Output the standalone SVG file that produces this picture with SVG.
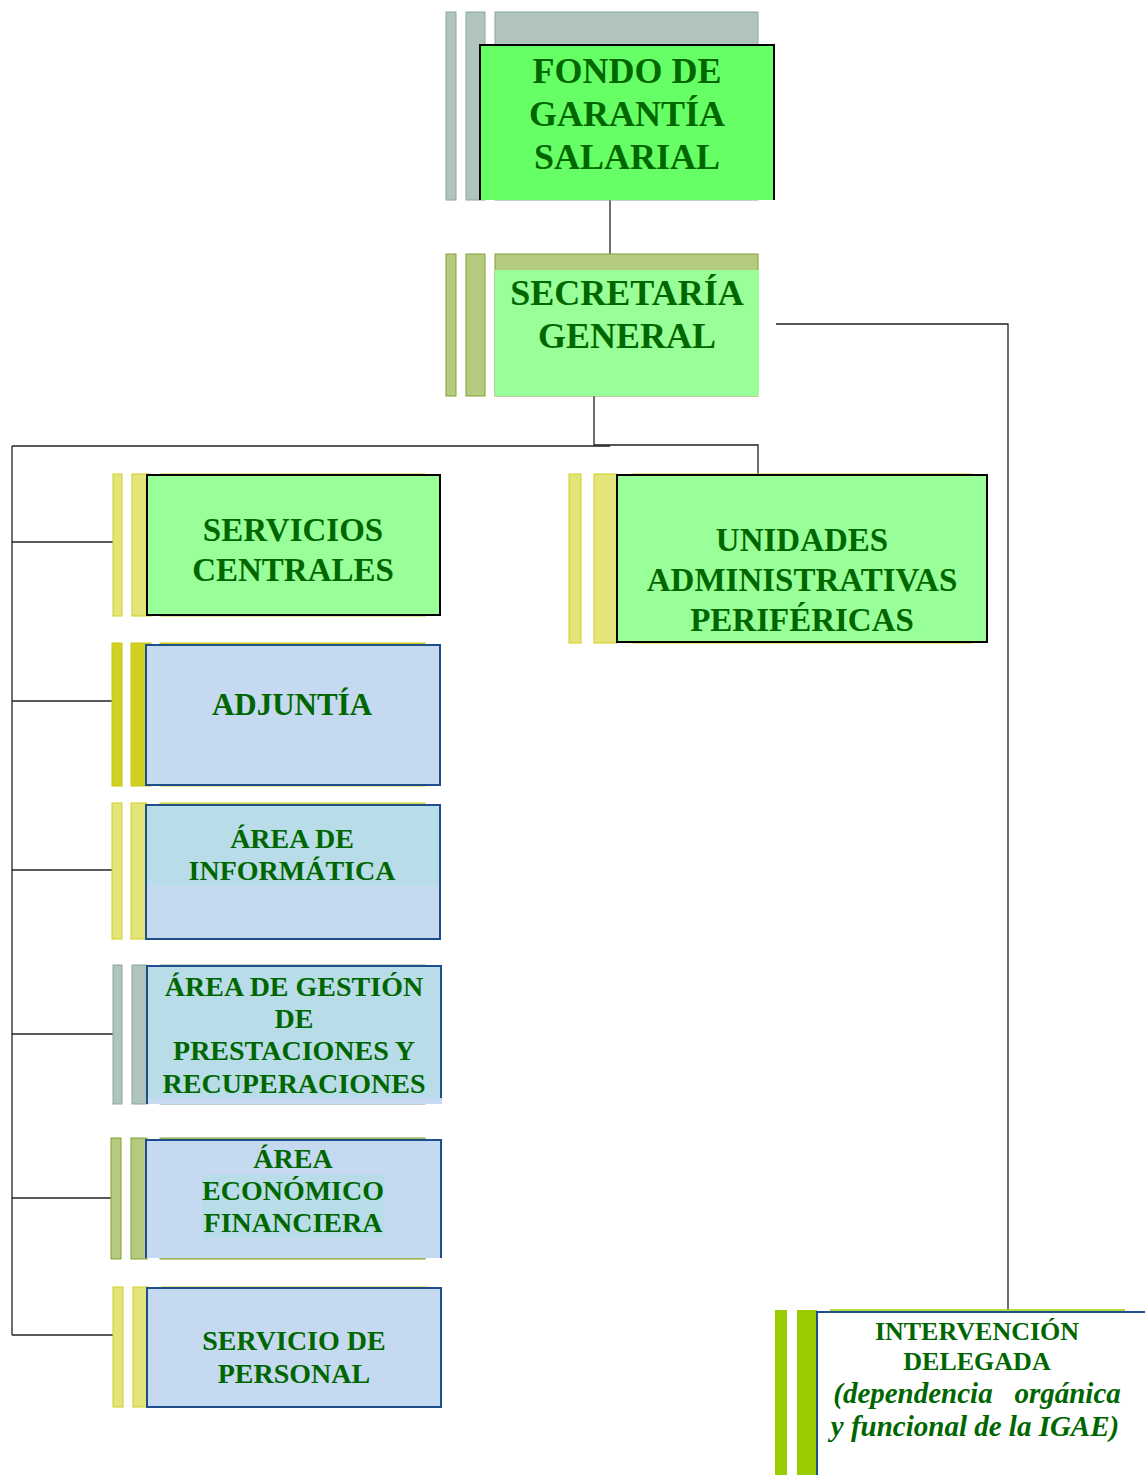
<svg xmlns="http://www.w3.org/2000/svg" width="1145" height="1475" viewBox="0 0 1145 1475">
<style>
text{font-family:"Liberation Serif","Times New Roman",serif;font-weight:bold;fill:#006600;text-anchor:middle}
.conn{stroke:#222;stroke-width:1.3;fill:none}
.gray{fill:#b0c4bc;stroke:#8aa898;stroke-width:1}
.olive{fill:#b5cc80;stroke:#80a030;stroke-width:1}
.yel{fill:#e3e47a;stroke:#d0d020;stroke-width:1}
.yeld{fill:#d0d020;stroke:#c8c810;stroke-width:1}
.lime{fill:#99cc00}
.blue{fill:#c5d9f0;stroke:#1f4e8c;stroke-width:2}
.black{stroke:#000;stroke-width:2}
</style>
<rect width="1145" height="1475" fill="#fff"/>
<g id="connectors">
<line class="conn" x1="610" y1="200" x2="610" y2="254"/>
<polyline class="conn" points="594,396 594,445 758,445 758,475"/>
<line class="conn" x1="12" y1="446" x2="610" y2="446"/>
<line class="conn" x1="12" y1="446" x2="12" y2="1335"/>
<line class="conn" x1="12" y1="542" x2="113" y2="542"/>
<line class="conn" x1="12" y1="701" x2="112" y2="701"/>
<line class="conn" x1="12" y1="870" x2="112" y2="870"/>
<line class="conn" x1="12" y1="1034" x2="113" y2="1034"/>
<line class="conn" x1="12" y1="1198" x2="111" y2="1198"/>
<line class="conn" x1="12" y1="1335" x2="113" y2="1335"/>
<polyline class="conn" points="776,324 1008,324 1008,1310"/>
</g>
<g id="fondo">
<rect class="gray" x="446" y="12" width="10" height="188"/>
<rect class="gray" x="466" y="12" width="19" height="188"/>
<rect class="gray" x="495" y="12" width="263" height="188"/>
<path d="M480,200 V45 H774 V200" fill="#66ff66" class="black"/>
<text x="627" y="83" font-size="36">FONDO DE</text>
<text x="627" y="126" font-size="36">GARANTÍA</text>
<text x="627" y="169" font-size="36">SALARIAL</text>
</g>
<g id="secretaria">
<rect class="olive" x="446" y="254" width="10" height="142"/>
<rect class="olive" x="466" y="254" width="19" height="142"/>
<rect class="olive" x="495" y="254" width="263" height="142"/>
<rect x="495" y="270" width="264" height="126" fill="#99ff99"/>
<text x="627" y="305" font-size="36">SECRETARÍA</text>
<text x="627" y="348" font-size="36">GENERAL</text>
</g>
<g id="servicios-centrales">
<rect class="yel" x="113" y="474" width="9" height="142"/>
<rect class="yel" x="132" y="474" width="19" height="142"/>
<rect class="yel" x="160" y="474" width="265" height="142"/>
<rect x="147" y="475" width="293" height="140" fill="#99ff99" class="black"/>
<text x="293" y="541" font-size="33">SERVICIOS</text>
<text x="293" y="581" font-size="33">CENTRALES</text>
</g>
<g id="adjuntia">
<rect class="yeld" x="112" y="643" width="10" height="143"/>
<rect class="yeld" x="131" y="643" width="20" height="143"/>
<rect class="yeld" x="160" y="643" width="265" height="143"/>
<rect class="blue" x="146" y="645" width="294" height="140"/>
<text x="292" y="715" font-size="31">ADJUNTÍA</text>
</g>
<g id="informatica">
<rect class="yel" x="112" y="803" width="10" height="136"/>
<rect class="yel" x="131" y="803" width="16" height="136"/>
<rect class="yel" x="160" y="803" width="265" height="136"/>
<rect class="blue" x="146" y="805" width="294" height="134"/>
<rect x="147" y="806" width="292" height="80" fill="#b8dde8"/>
<text x="292" y="848" font-size="28">ÁREA DE</text>
<text x="292" y="880" font-size="28">INFORMÁTICA</text>
</g>
<g id="gestion">
<rect class="gray" x="113" y="965" width="9" height="139"/>
<rect class="gray" x="132" y="965" width="15" height="139"/>
<rect class="gray" x="160" y="965" width="265" height="139"/>
<path d="M147,1104 V966 H441 V1104" fill="#b8dde8" stroke="#1f4e8c" stroke-width="2"/>
<rect x="148" y="1098" width="294" height="6" fill="#c5d9f0"/>
<text x="294" y="996" font-size="28">ÁREA DE GESTIÓN</text>
<text x="294" y="1028" font-size="28">DE</text>
<text x="294" y="1060" font-size="28">PRESTACIONES Y</text>
<text x="294" y="1093" font-size="28">RECUPERACIONES</text>
</g>
<g id="economico">
<rect class="olive" x="111" y="1138" width="10" height="121"/>
<rect class="olive" x="131" y="1138" width="16" height="121"/>
<rect class="olive" x="160" y="1138" width="265" height="121"/>
<path d="M146,1258 V1140 H441 V1258" fill="#c5d9f0" stroke="#1f4e8c" stroke-width="2"/>
<rect x="202" y="1174" width="183" height="64" fill="#b8dde8"/>
<text x="293" y="1168" font-size="28">ÁREA</text>
<text x="293" y="1200" font-size="28">ECONÓMICO</text>
<text x="293" y="1232" font-size="28">FINANCIERA</text>
</g>
<g id="personal">
<rect class="yel" x="113" y="1287" width="10" height="120"/>
<rect class="yel" x="133" y="1287" width="15" height="120"/>
<rect class="yel" x="162" y="1287" width="265" height="120"/>
<rect class="blue" x="147" y="1288" width="294" height="119"/>
<text x="294" y="1350" font-size="28">SERVICIO DE</text>
<text x="294" y="1383" font-size="28">PERSONAL</text>
</g>
<g id="unidades">
<rect class="yel" x="569" y="474" width="12" height="169"/>
<rect class="yel" x="594" y="474" width="23" height="169"/>
<rect class="yel" x="632" y="474" width="340" height="169"/>
<rect x="617" y="475" width="370" height="167" fill="#99ff99" class="black"/>
<text x="802" y="551" font-size="33">UNIDADES</text>
<text x="802" y="591" font-size="33">ADMINISTRATIVAS</text>
<text x="802" y="631" font-size="33">PERIFÉRICAS</text>
</g>
<g id="intervencion">
<rect class="lime" x="775" y="1310" width="12" height="165"/>
<rect class="lime" x="797" y="1310" width="20" height="165"/>
<line x1="830" y1="1310" x2="1125" y2="1310" stroke="#99cc00" stroke-width="1.5"/>
<path d="M817,1475 V1312 H1145" fill="#fff" stroke="#1f4e8c" stroke-width="2"/>
<text x="977" y="1340" font-size="26">INTERVENCIÓN</text>
<text x="977" y="1370" font-size="26">DELEGADA</text>
<text x="977" y="1403" font-size="29" font-style="italic" xml:space="preserve">(dependencia   orgánica</text>
<text x="975" y="1436" font-size="29" font-style="italic">y funcional de la IGAE)</text>
</g>
</svg>
